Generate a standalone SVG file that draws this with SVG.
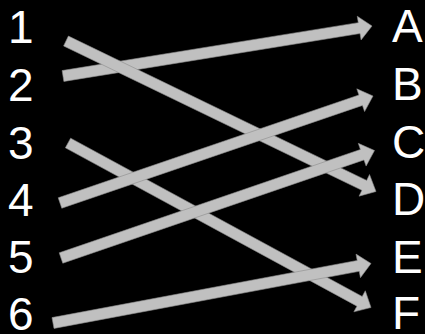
<svg xmlns="http://www.w3.org/2000/svg" width="425" height="334" viewBox="0 0 425 334">
<style>
.lbl{font-family:"Liberation Sans",Arial,sans-serif;font-size:46px;fill:#ffffff}
.arr{fill:#c0c0c0;stroke:#8c8c8c;stroke-width:0.6;stroke-linejoin:miter}
</style>
<rect width="425" height="334" fill="#000000"/>
<g id="connectors">
<polygon id="a2" class="arr" points="63.878,81.430 360.044,33.506 361.082,39.922 372,26 357.250,16.230 358.288,22.646 62.122,70.570"/>
<polygon id="a1" class="arr" points="63.605,45.951 361.905,190.291 359.074,196.141 376,191.5 369.526,174.539 366.695,180.389 68.395,36.049"/>
<polygon id="a3" class="arr" points="65.376,147.833 356.952,306.131 353.851,311.844 371,307.5 365.301,290.752 362.200,296.465 70.624,138.167"/>
<polygon id="a4" class="arr" points="61.779,208.204 362.478,105.409 364.581,111.559 373,96 356.817,88.851 358.920,95.001 58.221,197.796"/>
<polygon id="a6" class="arr" points="54.011,328.407 359.232,271.298 360.428,277.687 371,263.5 356.014,254.095 357.210,260.484 51.989,317.593"/>
<polygon id="a5" class="arr" points="62.784,263.203 363.986,159.920 366.095,166.069 374.5,150.5 358.309,143.365 360.418,149.514 59.216,252.797"/>
</g>
<g id="n1"><text class="lbl" x="8" y="43">1</text></g>
<g id="n2"><text class="lbl" x="8" y="101">2</text></g>
<g id="n3"><text class="lbl" x="8" y="159">3</text></g>
<g id="n4"><text class="lbl" x="8" y="216">4</text></g>
<g id="n5"><text class="lbl" x="8" y="273">5</text></g>
<g id="n6"><text class="lbl" x="8" y="330">6</text></g>
<g id="nA"><text class="lbl" x="392" y="42">A</text></g>
<g id="nB"><text class="lbl" x="392" y="100">B</text></g>
<g id="nC"><text class="lbl" x="392" y="158">C</text></g>
<g id="nD"><text class="lbl" x="392" y="215">D</text></g>
<g id="nE"><text class="lbl" x="392" y="273">E</text></g>
<g id="nF"><text class="lbl" x="392" y="329">F</text></g>
</svg>
